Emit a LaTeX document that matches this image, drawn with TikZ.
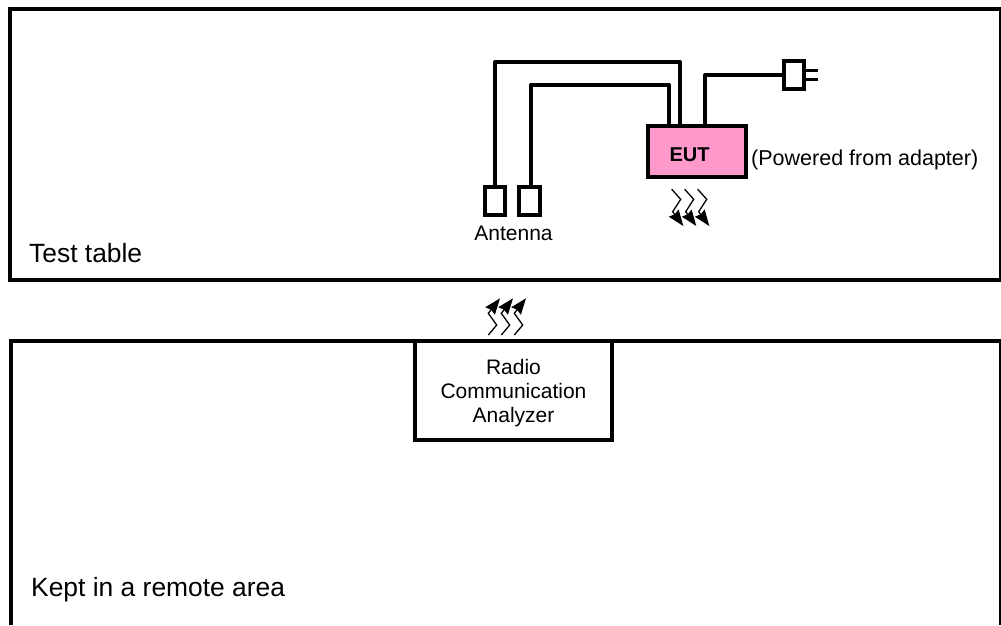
\documentclass[tikz,border=0pt]{standalone}
\usepackage{fontspec}
\setmainfont{Liberation Sans}
\usetikzlibrary{arrows.meta}
\definecolor{eutpink}{HTML}{FF99CC}
\tikzset{
  frame/.style={line width=4pt,draw=black},
  wire/.style={line width=4pt,draw=black,line join=round},
  boxnode/.style={draw=black,line width=4pt,rectangle,inner sep=0pt,outer sep=0pt},
  label/.style={inner sep=0pt,font=\fontsize{21}{24}\selectfont,align=center},
  biglabel/.style={inner sep=0pt,font=\fontsize{26.4}{30}\selectfont,anchor=base west},
  wave/.style={line width=1.3pt,draw=black,-{Stealth[length=16pt,width=12pt,inset=1.5pt]}}
}
\begin{document}
\begin{tikzpicture}[x=1pt,y=-1pt]
\useasboundingbox (0,0) rectangle (1001,625);
\fill[white] (0,0) rectangle (1001,625);
% frames
\node[boxnode,minimum width=991pt,minimum height=271pt] (table) at (505.5,144.5) {};
\coordinate (bl) at (11,625);
\coordinate (br) at (1001,625);
\draw[frame] (bl) -- (11,341) -- (1001,341) -- (br);
\node[biglabel] (tt) at (29,262) {Test table};
\node[biglabel] (kept) at (31,596) {Kept in a remote area};
% analyzer
\node[boxnode,fill=white,minimum width=197pt,minimum height=99pt] (rca) at (513.5,390.5) {};
\node[label] (rcatxt) at (513.5,393) {Radio\\Communication\\Analyzer};
% EUT
\node[boxnode,fill=eutpink,minimum width=98pt,minimum height=51pt] (eut) at (697,151.5) {};
\node[inner sep=0pt,font=\bfseries\fontsize{20}{24}\selectfont,anchor=base] (euttxt) at (689.5,161.5) {EUT};
\node[label,font=\fontsize{21.5}{24}\selectfont,anchor=base west] (pow) at (751,165.5) {(Powered from adapter)};
% antennas
\node[boxnode,minimum width=20pt,minimum height=28pt] (a1) at (495,201) {};
\node[boxnode,minimum width=21pt,minimum height=28pt] (a2) at (529.5,201) {};
\node[label,anchor=base] (ant) at (513.5,240) {Antenna};
% plug
\node[boxnode,minimum width=20pt,minimum height=28pt] (plug) at (794,75) {};
\coordinate (c1) at (680,62);
\coordinate (c2) at (669,85);
\coordinate (c3) at (705,75);
\coordinate (p1) at (818,70);
\coordinate (p2) at (818,79);
\draw[wire] (a1.north) |- (c1) -- (c1 |- eut.north);
\draw[wire] (531,187) |- (c2) -- (c2 |- eut.north);
\draw[wire] (c3 |- eut.north) -- (c3) -- (plug.west |- c3);
\draw[line width=3pt] (plug.east |- p1) -- (p1);
\draw[line width=3pt] (plug.east |- p2) -- (p2);
% waves
\foreach \d/\n in {0/a,13/b,26/c}{
  \coordinate (w\n) at (671.7+\d,189.3);
  \draw[wave] (w\n) -- ++(9,10) -- ++(-8,12.4) -- ++(10.6,14.3);
  \coordinate (u\n) at (488.3+\d,335);
  \draw[wave] (u\n) -- ++(8.4,-10) -- ++(-8.4,-11.7) -- ++(11.7,-15);
}
\end{tikzpicture}
\end{document}
